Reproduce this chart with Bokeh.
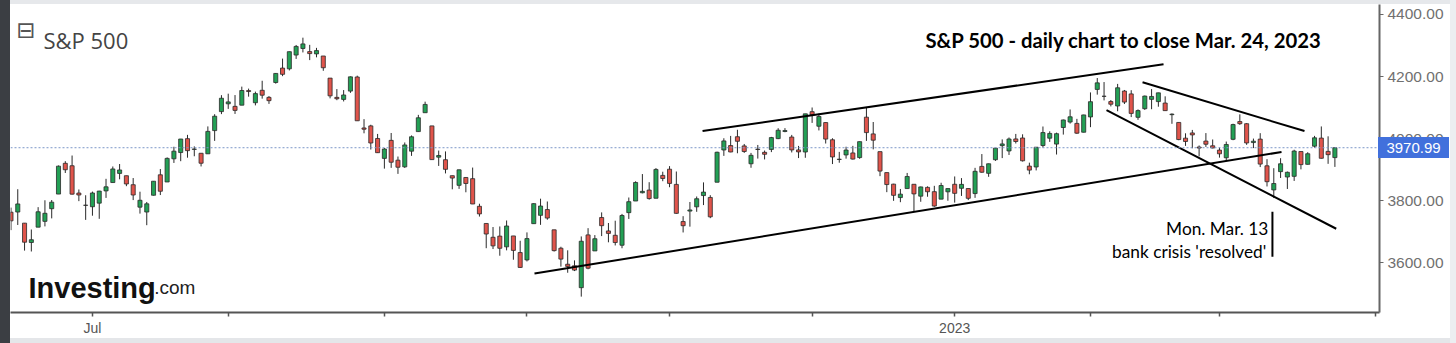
import pandas as pd
from bokeh.plotting import figure
from bokeh.models import Range1d, FixedTicker, NumeralTickFormatter, Span, Label, Div
from bokeh.layouts import row, column
from bokeh.embed import file_html
from bokeh.resources import INLINE

# ---------------- data (S&P 500 daily OHLC, 14 Jun 2022 - 24 Mar 2023) ----------------
HOLIDAYS = ["2022-06-20", "2022-07-04", "2022-09-05", "2022-11-24",
            "2022-12-26", "2023-01-02", "2023-01-16", "2023-02-20"]

opens = [
    3763.5, 3764.0, 3728.2, 3665.9, 3715.3, 3733.9, 3774.7, 3821.8, 3920.8, 3913.0, 3825.1, 3786.0,
    3781.0, 3792.6, 3832.0, 3858.9, 3888.3, 3880.9, 3851.9, 3779.7, 3764.0, 3818.0, 3883.8, 3860.7, 3935.3, 3955.5, 4000.2, 3965.7, 3953.2, 3951.4, 4026.1, 4087.3,
    4112.4, 4104.2, 4108.0, 4154.9, 4115.9, 4155.9, 4133.1, 4181.0, 4227.4, 4225.0, 4269.4, 4290.5, 4280.4, 4273.1, 4266.3, 4195.1, 4133.1, 4126.6, 4153.3, 4198.7, 4034.6, 4041.3, 4000.7,
    3936.7, 3994.7, 3930.9, 3909.4, 3959.9, 4022.9, 4083.7, 4041.3, 3940.7, 3932.4, 3881.0, 3849.9, 3875.2, 3871.4, 3782.4, 3727.1, 3682.7, 3686.4, 3651.9, 3687.0, 3633.5,
    3609.8, 3726.5, 3753.3, 3772.0, 3706.7, 3647.5, 3595.9, 3590.8, 3520.4, 3690.4, 3638.7, 3746.3, 3703.1, 3689.1, 3657.1, 3762.0, 3799.4, 3826.0, 3834.7, 3808.3, 3881.9,
    3901.8, 3852.9, 3733.3, 3767.0, 3780.7, 3817.0, 3810.9, 3859.9, 3963.7, 3978.0, 4006.4, 3976.8, 3919.3, 3966.4, 3956.2, 3965.5, 4000.3, 4023.3, 4005.4, 3964.0, 3957.2,
    4087.1, 4040.2, 4052.0, 3996.6, 3933.3, 3947.8, 3954.2, 3939.3, 4069.4, 4015.5, 3958.4, 3890.9, 3853.8, 3810.5, 3839.5, 3853.3, 3815.1, 3843.3, 3829.6, 3805.5, 3829.1,
    3853.3, 3840.4, 3839.7, 3823.4, 3910.8, 3888.6, 3932.4, 3977.6, 3960.6, 3999.3, 4002.3, 3911.8, 3909.0, 3978.1, 4001.7, 3982.7, 4036.1, 4053.7, 4049.3, 4020.9,
    4070.1, 4158.7, 4136.7, 4119.6, 4105.4, 4153.5, 4144.3, 4068.9, 4096.6, 4126.7, 4119.5, 4114.8, 4077.4, 4052.4, 4001.8, 4018.6, 3973.2, 3992.4, 3977.2,
    3963.3, 3938.7, 3998.0, 4055.2, 4048.3, 3987.6, 3998.7, 3912.8, 3835.1, 3894.0, 3876.7, 3878.9, 3958.7, 3917.5, 3975.9, 4002.0, 3959.2, 3939.2,
]
highs = [
    3778.2, 3837.4, 3728.2, 3707.7, 3779.7, 3801.8, 3802.6, 3913.7, 3927.7, 3945.9, 3836.5, 3818.0,
    3829.8, 3832.2, 3870.9, 3910.6, 3918.5, 3880.9, 3873.4, 3829.4, 3796.4, 3863.6, 3902.4, 3939.8, 3974.1, 3999.3, 4012.4, 3975.3, 3953.2, 4039.6, 4078.9, 4140.2,
    4145.0, 4140.5, 4167.7, 4161.3, 4151.6, 4186.6, 4137.3, 4211.0, 4257.9, 4280.5, 4301.8, 4325.3, 4302.2, 4292.5, 4266.3, 4195.1, 4159.8, 4156.6, 4200.5, 4203.0, 4063.0, 4045.0, 4015.4,
    3970.2, 4018.4, 3942.6, 3987.9, 4010.5, 4076.8, 4119.3, 4041.3, 3961.9, 3959.1, 3881.0, 3900.5, 3876.0, 3907.1, 3790.7, 3727.1, 3715.7, 3717.5, 3736.7, 3687.0, 3671.4,
    3698.4, 3791.9, 3806.9, 3797.9, 3706.7, 3652.2, 3640.7, 3608.3, 3685.4, 3712.0, 3689.7, 3762.8, 3728.6, 3736.0, 3757.9, 3810.7, 3862.9, 3886.2, 3860.0, 3905.4, 3893.7,
    3911.8, 3894.4, 3750.6, 3796.3, 3814.0, 3859.4, 3818.2, 3958.3, 4001.5, 4009.0, 4028.8, 3983.1, 3954.3, 3979.9, 3962.0, 4005.9, 4033.8, 4034.0, 4012.3, 3976.8, 4080.1,
    4100.5, 4080.5, 4052.5, 4001.5, 3957.6, 3974.2, 3977.0, 3990.7, 4101.0, 4053.8, 3958.4, 3890.9, 3854.9, 3838.2, 3889.8, 3853.3, 3845.8, 3846.7, 3848.3, 3858.2, 3839.9,
    3878.5, 3873.2, 3839.7, 3906.2, 3950.6, 3919.8, 3970.1, 3997.8, 4004.0, 4015.4, 4014.2, 3922.9, 3973.0, 4039.3, 4023.9, 4019.6, 4061.6, 4094.2, 4063.9, 4077.2,
    4149.0, 4195.4, 4182.4, 4124.6, 4176.5, 4156.9, 4156.2, 4094.4, 4138.9, 4159.8, 4148.1, 4136.5, 4081.5, 4052.4, 4017.4, 4028.3, 3978.3, 4018.1, 3997.5,
    3971.7, 3990.8, 4048.3, 4078.5, 4050.0, 4000.4, 4017.8, 3934.1, 3905.1, 3937.3, 3894.3, 3964.5, 3958.9, 3956.6, 4009.1, 4039.5, 4007.7, 3972.7,
]
lows = [
    3705.7, 3722.3, 3639.8, 3636.9, 3715.3, 3717.7, 3743.5, 3821.8, 3889.7, 3820.1, 3799.0, 3738.7,
    3752.1, 3742.1, 3809.4, 3858.9, 3869.3, 3847.2, 3802.4, 3758.9, 3721.6, 3817.2, 3818.6, 3860.7, 3922.0, 3927.6, 3938.9, 3943.5, 3910.7, 3951.4, 3993.0, 4079.2,
    4096.0, 4079.8, 4108.0, 4135.4, 4107.3, 4129.0, 4112.1, 4177.3, 4201.4, 4219.8, 4256.9, 4277.8, 4253.1, 4262.0, 4218.7, 4129.9, 4124.0, 4120.0, 4147.6, 4057.7, 4017.4, 3965.2, 3954.5,
    3903.7, 3906.2, 3886.8, 3906.0, 3944.8, 4022.9, 4083.7, 3932.7, 3912.4, 3888.3, 3837.1, 3838.5, 3827.5, 3789.5, 3749.4, 3647.5, 3644.8, 3623.3, 3640.6, 3610.4, 3584.1,
    3604.9, 3726.5, 3722.7, 3739.2, 3636.7, 3588.1, 3568.5, 3573.9, 3491.6, 3579.7, 3638.7, 3686.5, 3666.5, 3656.4, 3647.4, 3741.7, 3799.4, 3824.1, 3803.8, 3808.3, 3863.2,
    3843.8, 3758.7, 3698.2, 3716.9, 3764.7, 3786.3, 3744.2, 3859.9, 3944.8, 3956.4, 3953.2, 3954.3, 3906.5, 3936.0, 3933.3, 3956.9, 3998.7, 4020.8, 3955.8, 3937.7, 3938.6,
    4050.9, 4026.6, 3984.5, 3918.4, 3922.7, 3935.8, 3933.0, 3935.3, 3993.0, 3965.7, 3879.5, 3827.9, 3800.0, 3795.6, 3839.5, 3764.5, 3797.0, 3813.2, 3780.8, 3805.5, 3800.3,
    3794.3, 3815.8, 3802.4, 3809.6, 3890.4, 3877.3, 3928.5, 3937.6, 3947.7, 3984.6, 3926.6, 3885.5, 3897.9, 3971.6, 3989.8, 3949.1, 4013.3, 4048.7, 4015.6, 4020.4,
    4037.2, 4141.9, 4123.4, 4104.0, 4088.4, 4111.7, 4069.7, 4060.8, 4092.7, 4095.0, 4103.0, 4089.9, 4048.0, 3995.2, 3976.9, 3969.2, 3943.1, 3973.6, 3969.0,
    3939.1, 3928.2, 3995.2, 4044.6, 3980.3, 3969.8, 3908.7, 3846.3, 3808.9, 3873.6, 3838.2, 3864.1, 3901.3, 3916.9, 3971.2, 3936.2, 3919.1, 3909.2,
]
closes = [
    3735.5, 3790.0, 3666.8, 3674.8, 3764.8, 3759.9, 3795.7, 3911.7, 3900.1, 3821.6, 3818.8, 3785.4,
    3825.3, 3831.4, 3845.1, 3902.6, 3899.4, 3854.4, 3818.8, 3801.8, 3790.4, 3863.2, 3830.9, 3936.7, 3959.9, 3999.0, 3961.6, 3966.8, 3921.1, 4023.6, 4072.4, 4130.3,
    4118.6, 4091.2, 4155.2, 4151.9, 4145.2, 4140.1, 4122.5, 4210.2, 4207.3, 4280.2, 4297.1, 4305.2, 4274.0, 4283.7, 4228.5, 4138.0, 4128.7, 4140.8, 4199.1, 4057.7, 4030.6, 3986.2, 3955.0,
    3966.9, 3924.3, 3908.2, 3979.9, 4006.2, 4067.4, 4110.4, 3932.7, 3946.0, 3901.4, 3873.3, 3899.9, 3855.9, 3789.9, 3758.0, 3693.2, 3655.0, 3647.3, 3719.0, 3640.5, 3585.6,
    3678.4, 3791.0, 3783.3, 3744.5, 3639.7, 3612.4, 3588.8, 3577.0, 3669.9, 3583.1, 3678.0, 3720.0, 3695.2, 3665.8, 3752.8, 3797.3, 3859.1, 3830.6, 3807.3, 3901.1, 3872.0,
    3856.1, 3759.7, 3719.9, 3770.6, 3806.8, 3828.1, 3748.6, 3956.4, 3992.9, 3957.3, 3991.7, 3958.8, 3946.6, 3965.3, 3949.9, 4003.6, 4027.3, 4026.1, 3963.9, 3957.6, 4080.1,
    4076.6, 4071.7, 3998.8, 3941.3, 3933.9, 3963.5, 3934.4, 3990.6, 4019.7, 3995.3, 3895.8, 3852.4, 3817.7, 3821.6, 3878.4, 3822.4, 3844.8, 3829.3, 3783.2, 3849.3, 3839.5,
    3824.1, 3853.0, 3808.1, 3895.1, 3892.1, 3919.3, 3969.6, 3983.2, 3999.1, 3991.0, 3928.9, 3898.9, 3972.6, 4019.8, 4017.0, 4016.2, 4060.4, 4070.6, 4017.8, 4076.6,
    4119.2, 4179.8, 4136.5, 4111.1, 4164.0, 4117.9, 4081.5, 4090.5, 4137.3, 4136.1, 4147.6, 4090.4, 4079.1, 3997.3, 3991.1, 4012.3, 3970.0, 3982.2, 3970.2,
    3951.4, 3981.4, 4045.6, 4048.4, 3986.4, 3992.0, 3918.3, 3861.6, 3855.8, 3919.3, 3891.9, 3960.3, 3916.6, 3951.6, 4002.9, 3937.0, 3948.7, 3970.99,
]
LAST_CLOSE = 3970.99
LAST_CLOSE_TEXT = "3970.99"

# hand-drawn trend lines (trading-day index, price)
trend_x0 = [101.86, 77.11, 166.67, 161.36]
trend_y0 = [4024.6, 3565.7, 4181.8, 4091.9]
trend_x1 = [169.76, 187.14, 190.52, 195.2]
trend_y1 = [4239.6, 3957.2, 4024.6, 3710.1]

# annotation marker for Mon. Mar. 13
note_x = [185.8]
note_y0 = [3620.2]
note_y1 = [3764.6]

Y_TICKS = [3600, 3800, 4000, 4200, 4400]

# ---------------- derived ----------------
days = [d for d in pd.bdate_range("2022-06-14", "2023-04-03")
        if d.strftime("%Y-%m-%d") not in HOLIDAYS]
n = len(opens)
idx = list(range(n))
month_ticks, month_labels = [], {}
for i in range(1, len(days)):
    if days[i].month != days[i - 1].month:
        month_ticks.append(i)
        if days[i].month == 7:
            month_labels[i] = "Jul"
        elif days[i].month == 1:
            month_labels[i] = str(days[i].year)
        else:
            month_labels[i] = ""

GREEN, RED, EDGE = "#23a055", "#e0544b", "#2a2a2a"
colors = [GREEN if c >= o else RED for o, c in zip(opens, closes)]
tops = [max(o, c) for o, c in zip(opens, closes)]
bots = [min(o, c) for o, c in zip(opens, closes)]

X_END = 201.57
p = figure(width=1440, height=334, output_backend="svg", toolbar_location=None,
           x_range=Range1d(-0.07, X_END), y_range=Range1d(3440.5, 4432.1),
           y_axis_location="right", min_border_left=0, min_border_right=71,
           min_border_top=0, min_border_bottom=25, margin=0)
p.outline_line_color = None
p.xgrid.visible = False
p.ygrid.visible = False
p.background_fill_color = "white"
p.border_fill_color = "white"

# axes
xa = p.xaxis[0]
xa.ticker = FixedTicker(ticks=month_ticks)
xa.major_label_overrides = month_labels
xa.axis_line_color = "#555555"
xa.axis_line_width = 2
xa.major_tick_line_color = "#555555"
xa.major_tick_line_width = 1.5
xa.major_tick_in = 0
xa.major_tick_out = 4
xa.minor_tick_line_color = None
xa.major_label_standoff = 3
xa.major_label_text_font = "Liberation Sans"
xa.major_label_text_font_size = "14px"
xa.major_label_text_color = "#555555"

ya = p.yaxis[0]
ya.ticker = FixedTicker(ticks=Y_TICKS)
ya.formatter = NumeralTickFormatter(format="0.00")
ya.axis_line_color = "#666666"
ya.axis_line_width = 2
ya.major_tick_line_color = "#666666"
ya.major_tick_in = 0
ya.major_tick_out = 4
ya.minor_tick_line_color = None
ya.major_label_standoff = 4
ya.major_label_text_font = "Liberation Sans"
ya.major_label_text_font_size = "15.5px"
ya.major_label_text_color = "#707070"
ya.major_label_text_baseline = "middle"

# last price dotted line
p.add_layout(Span(location=LAST_CLOSE, dimension="width", line_color="#7d98c8",
                  line_dash="2 2", line_width=1))

# candles
p.segment(x0=idx, y0=lows, x1=idx, y1=highs, line_color=EDGE, line_width=1)
p.vbar(x=idx, width=0.6, top=tops, bottom=bots, fill_color=colors,
       line_color=EDGE, line_width=0.8)

# trend lines
p.segment(x0=trend_x0, y0=trend_y0, x1=trend_x1, y1=trend_y1,
          line_color="black", line_width=2)
p.segment(x0=note_x, y0=note_y0, x1=note_x, y1=note_y1,
          line_color="black", line_width=2)

# texts
p.add_layout(Label(x=2.21, y=4348.7, text="\u229f", text_font="DejaVu Sans",
                   text_font_size="23px", text_color="#555555",
                   text_align="center", text_baseline="middle"))
p.add_layout(Label(x=4.79, y=4318.8, text="S&P 500", text_font="Open Sans",
                   text_font_size="22px", text_color="#444444",
                   text_align="left", text_baseline="alphabetic"))
p.add_layout(Label(x=134.7, y=4316.6, text="S&P 500 - daily chart to close Mar. 24, 2023",
                   text_font="Lato", text_font_style="bold", text_font_size="20.3px",
                   text_color="black", text_align="left", text_baseline="alphabetic"))
p.add_layout(Label(x=185.2, y=3710.1, text="Mon. Mar. 13", text_font="Lato",
                   text_font_size="17.3px", text_color="black",
                   text_align="right", text_baseline="alphabetic"))
p.add_layout(Label(x=184.9, y=3636.3, text="bank crisis 'resolved'", text_font="Lato",
                   text_font_size="17.3px", text_color="black",
                   text_align="right", text_baseline="alphabetic"))
p.add_layout(Label(x=2.58, y=3520.7, text="Investing", text_font="Liberation Sans",
                   text_font_style="bold", text_font_size="29px", text_color="#111111",
                   text_align="left", text_baseline="alphabetic"))
p.add_layout(Label(x=21.1, y=3520.7, text=".com", text_font="Liberation Sans",
                   text_font_size="19px", text_color="#222222",
                   text_align="left", text_baseline="alphabetic"))

left_strip = Div(width=10, height=343, margin=0, styles={"background-color": "#3b3e43"})
top_strip = Div(width=1440, height=4, margin=0, styles={"background-color": "#e6e8eb"})
bottom_strip = Div(width=1440, height=5, margin=0, styles={"background-color": "#e4e6e9"})
right_strip = Div(width=6, height=343, margin=0, styles={"background-color": "#eceef1"})

layout = row(left_strip, column(top_strip, p, bottom_strip, margin=0, spacing=0),
             right_strip, margin=0, spacing=0)

# last-price tag sits over the right axis (outside the plot frame, where Bokeh clips annotations)
tag = ('<div style="position:absolute; left:1378px; top:137px; width:71px; height:21px; '
       'background:#4170dc; color:#ffffff; font-family:\'Liberation Sans\', Arial, sans-serif; '
       'font-size:15px; line-height:21px; text-align:center; z-index:10;">'
       + LAST_CLOSE_TEXT + '</div>')

html = file_html(layout, INLINE)
html = html.replace("</head>", "<style>html, body { margin: 0; padding: 0; }</style></head>", 1)
html = html.replace("</body>", tag + "</body>", 1)
open("out.html", "w").write(html)
